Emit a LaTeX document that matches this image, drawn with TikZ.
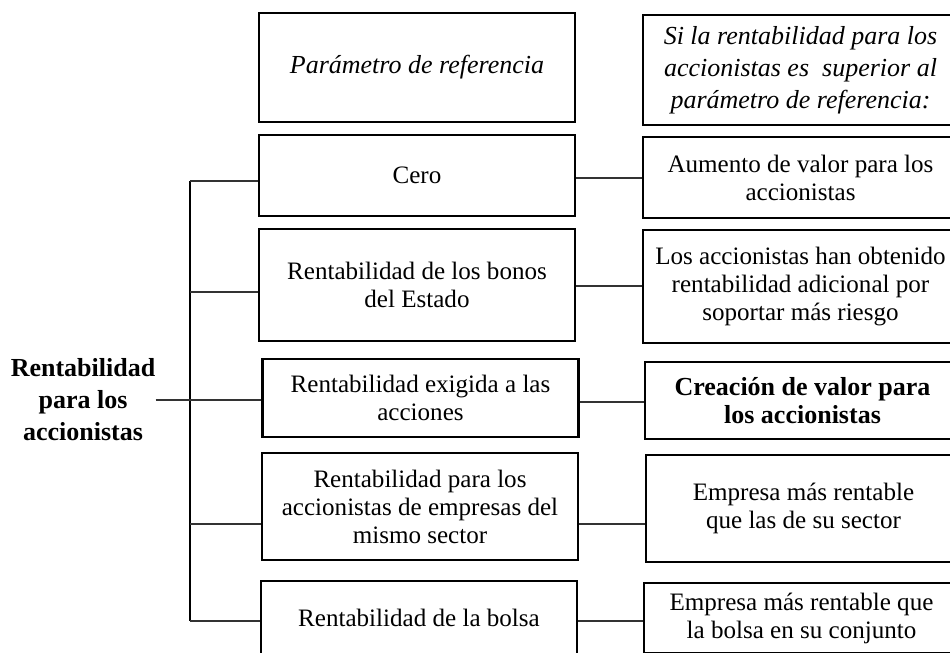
\documentclass[tikz,border=0pt]{standalone}
\usepackage{fontspec}
\setmainfont{Liberation Serif}

\begin{document}
\begin{tikzpicture}[x=0.75pt, y=-0.75pt,
box/.style={rectangle, draw=black, line width=1.7pt, align=center, inner sep=2pt, minimum width=237pt, font=\fontsize{18.8}{21}\selectfont},
answer/.style={box, minimum width=236pt},
head/.style={font=\fontsize{19.5}{24}\selectfont\itshape},
title/.style={align=center, inner sep=0pt, font=\fontsize{19.5}{24}\selectfont\bfseries},
link/.style={line width=0.8pt, draw=black!80},
bar/.style={line width=1.5pt},
]
\useasboundingbox (0,0) rectangle (950,653);
\clip (0,0) rectangle (950,653);

% parameters
\node (ref) [box, head, minimum height=81.75pt] at (417,67.5) {Parámetro de referencia};
\node (cero) [box, minimum height=60.75pt] at (417,175.5) {Cero};
\node (bonos) [box, minimum height=84pt] at (417,285) {Rentabilidad de los bonos\\del Estado};
\node (exig) [box, minimum height=58.5pt] at (420.5,398) {Rentabilidad exigida a las\\acciones};
\node (sector) [box, minimum height=80.25pt] at (420,506.5) {Rentabilidad para los\\accionistas de empresas del\\mismo sector};
\node (bolsa) [box, minimum height=55.5pt] at (419,618) {Rentabilidad de la bolsa};

% results
\node (cond) [answer, head, minimum height=82.5pt] at (800.5,70) {Si la rentabilidad para los\\accionistas es\ \ superior al\\parámetro de referencia:};
\node (aum) [answer, minimum height=60.75pt] at (800.5,177.5) {Aumento de valor para los\\accionistas};
\node (obt) [answer, minimum height=84.75pt] at (800.5,286.5) {Los accionistas han obtenido\\rentabilidad adicional por\\soportar más riesgo};
\node (crea) [answer, minimum height=57.75pt, font=\fontsize{19.5}{21}\selectfont\bfseries] at (802.5,400.5) {Creación de valor para\\los accionistas};
\node (emp) [answer, minimum height=80.25pt] at (803.5,508.5) {Empresa más rentable\\que las de su sector};
\node (bols2) [answer, minimum height=52.5pt] at (801.5,618) {Empresa más rentable que\\la bolsa en su conjunto};

\node (lbl) [title] at (83,400) {Rentabilidad\\para los\\accionistas};

% bracket
\coordinate (b1) at (190,181);
\coordinate (b2) at (190,292);
\coordinate (b4) at (190,524);
\coordinate (b5) at (190,621);
\draw[bar] (b1) -- (b5);
\foreach \b/\n in {b1/cero, b2/bonos, b4/sector, b5/bolsa}
  \draw[link] (\b) -- (\b -| \n.west);
\draw[link] (lbl.east) -- (lbl.east -| exig.west);

% rows
\coordinate (m1) at (610,178);
\coordinate (m2) at (610,286);
\coordinate (m3) at (610,402);
\coordinate (m4) at (610,524);
\coordinate (m5) at (610,621);
\foreach \m/\a/\b in {m1/cero/aum, m2/bonos/obt, m3/exig/crea, m4/sector/emp, m5/bolsa/bols2}
  \draw[link] (\m -| \a.east) -- (\m -| \b.west);
\end{tikzpicture}
\end{document}
